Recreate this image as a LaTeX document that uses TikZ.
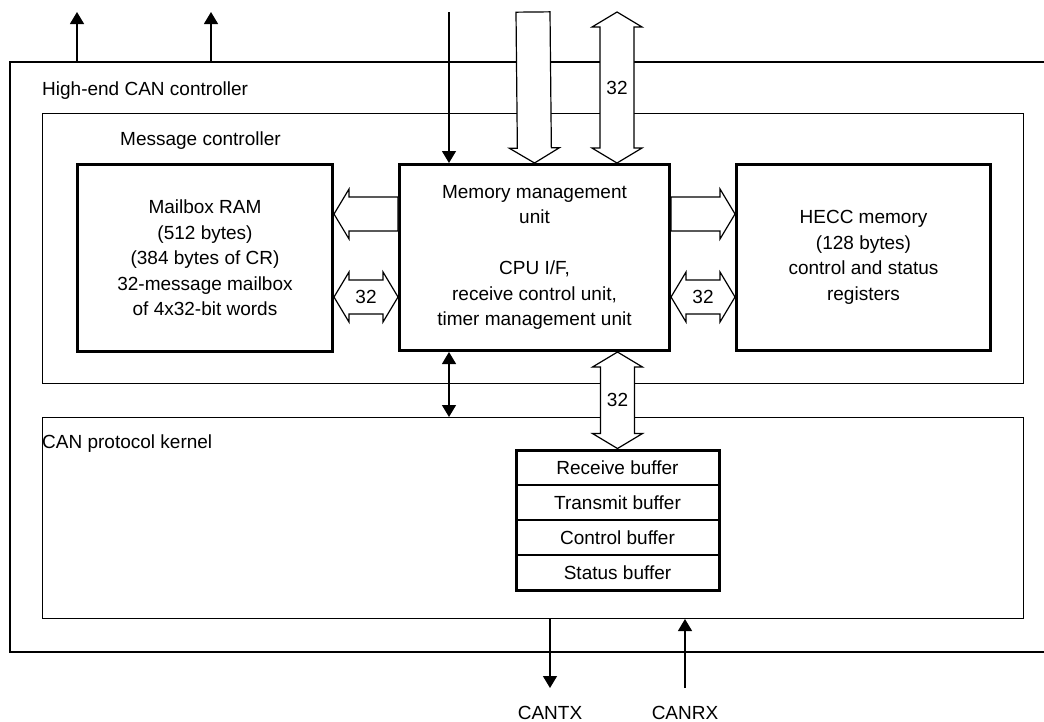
\documentclass[tikz,border=0pt]{standalone}
\usepackage{fontspec}
\setmainfont{Liberation Sans}
\usepackage{tikz}
\usetikzlibrary{arrows.meta, positioning, calc, fit}

\begin{document}
\begin{tikzpicture}[
    x=1pt, y=-1pt,
    every node/.style={font=\fontsize{19}{25.5}\selectfont, inner sep=0pt},
    blk/.style={draw, line width=3pt, align=center},
    area/.style={draw, line width=1pt, anchor=north west},
    bufrow/.style={draw, line width=1pt, minimum width=202pt, minimum height=34pt},
    frame/.style={line width=2.5pt},
    sig/.style={-{Triangle[width=14pt,length=12pt]}, line width=1.2pt},
    sigboth/.style={{Triangle[width=14pt,length=12pt]}-{Triangle[width=14pt,length=12pt]}, line width=1.2pt},
    busone/.style={draw, fill=white, line width=1.2pt, to path={
        -- ($(\tikztostart)!17pt!90:(\tikztotarget)$)
        -- ($(\tikztotarget)!15pt!(\tikztostart)!17pt!-90:(\tikztostart)$)
        -- ($(\tikztotarget)!15pt!(\tikztostart)!25pt!-90:(\tikztostart)$)
        -- (\tikztotarget)
        -- ($(\tikztotarget)!15pt!(\tikztostart)!25pt!90:(\tikztostart)$)
        -- ($(\tikztotarget)!15pt!(\tikztostart)!17pt!90:(\tikztostart)$)
        -- ($(\tikztostart)!17pt!-90:(\tikztotarget)$)
        -- cycle}},
    busboth/.style={draw, fill=white, line width=1.2pt, to path={
        -- ($(\tikztostart)!15pt!(\tikztotarget)!25pt!90:(\tikztotarget)$)
        -- ($(\tikztostart)!15pt!(\tikztotarget)!17pt!90:(\tikztotarget)$)
        -- ($(\tikztotarget)!15pt!(\tikztostart)!17pt!-90:(\tikztostart)$)
        -- ($(\tikztotarget)!15pt!(\tikztostart)!25pt!-90:(\tikztostart)$)
        -- (\tikztotarget)
        -- ($(\tikztotarget)!15pt!(\tikztostart)!25pt!90:(\tikztostart)$)
        -- ($(\tikztotarget)!15pt!(\tikztostart)!17pt!90:(\tikztostart)$)
        -- ($(\tikztostart)!15pt!(\tikztotarget)!17pt!-90:(\tikztotarget)$)
        -- ($(\tikztostart)!15pt!(\tikztotarget)!25pt!-90:(\tikztotarget)$)
        -- cycle}}
]
    \useasboundingbox (0,0) rectangle (1044,721);

    % containers
    \coordinate (outertl) at (10,62);
    \draw[frame] (1044,62) -| (10,652) -- (1044,652);
    \node[anchor=base west] (hecctitle) at (42,95) {High-end CAN controller};
    \node[area, minimum width=981pt, minimum height=270pt] (msgctl) at (42,113) {};
    \node[anchor=base west] (msgtitle) at (120,145) {Message controller};
    \node[area, minimum width=981pt, minimum height=201pt] (kernel) at (42,417) {};
    \node[anchor=base west] (kerneltitle) at (42,448) {CAN protocol kernel};

    % blocks
    \node[blk, anchor=north west, minimum width=255pt, minimum height=187pt] (mailbox) at (76,163)
        {Mailbox RAM\\(512 bytes)\\(384 bytes of CR)\\32-message mailbox\\of 4x32-bit words};
    \node[blk, anchor=north west, minimum width=270pt, minimum height=186pt] (mmu) at (398,163)
        {Memory management\\unit\\[25.5pt]CPU I/F,\\receive control unit,\\timer management unit};
    \node[blk, anchor=north west, minimum width=254pt, minimum height=186pt] (hecc) at (735,163)
        {HECC memory\\(128 bytes)\\control and status\\registers};

    % buffers
    \node[bufrow, anchor=north west] (rxbuf) at (516,450) {Receive buffer};
    \node[bufrow, below=0pt of rxbuf] (txbuf) {Transmit buffer};
    \node[bufrow, below=0pt of txbuf] (ctlbuf) {Control buffer};
    \node[bufrow, below=0pt of ctlbuf] (statbuf) {Status buffer};
    \node[blk, fit=(rxbuf)(statbuf)] (buffers) {};

    % free ends
    \coordinate (upA) at (77,12);
    \coordinate (upB) at (211,12);
    \coordinate (cpuin) at (449,12);
    \coordinate (datain) at (533,12);
    \coordinate (cpubus) at (617,12);
    \coordinate (rowA) at (0,214);
    \coordinate (rowB) at (0,297);
    \coordinate (cantx) at (550,688);
    \coordinate (canrx) at (685,688);

    \coordinate (mmutop) at (cpubus |- mmu.north);
    \coordinate (mmuwA) at (mmu.west |- rowA);
    \coordinate (mboxA) at (mailbox.east |- rowA);
    \coordinate (mmuwB) at (mmu.west |- rowB);
    \coordinate (mboxB) at (mailbox.east |- rowB);
    \coordinate (mmueA) at (mmu.east |- rowA);
    \coordinate (heccA) at (hecc.west |- rowA);
    \coordinate (mmueB) at (mmu.east |- rowB);
    \coordinate (heccB) at (hecc.west |- rowB);
    \coordinate (mmubot) at (mmu.south -| buffers.north);

    % buses
    \draw[busone] (datain) to (mmu.north);
    \draw[busboth] (cpubus) to (mmutop);
    \draw[busone] (mmuwA) to (mboxA);
    \draw[busboth] (mboxB) to (mmuwB);
    \draw[busone] (mmueA) to (heccA);
    \draw[busboth] (mmueB) to (heccB);
    \draw[busboth] (mmubot) to (buffers.north);
    \node (w1) at ($(cpubus)!0.5!(mmutop)$) {32};
    \node (w2) at ($(mboxB)!0.5!(mmuwB)$) {32};
    \node (w3) at ($(mmueB)!0.5!(heccB)$) {32};
    \node (w4) at ($(mmubot)!0.5!(buffers.north)$) {32};

    % signals
    \draw[sig] (upA |- outertl) -- (upA);
    \draw[sig] (upB |- outertl) -- (upB);
    \draw[sig] (cpuin) -- (cpuin |- mmu.north);
    \draw[sigboth] (cpuin |- mmu.south) -- (cpuin |- kernel.north);
    \draw[sig] (cantx |- kernel.south) -- (cantx);
    \draw[sig] (canrx) -- (canrx |- kernel.south);
    \node[anchor=base] (txname) at (550,719) {CANTX};
    \node[anchor=base] (rxname) at (685,719) {CANRX};
\end{tikzpicture}
\end{document}
